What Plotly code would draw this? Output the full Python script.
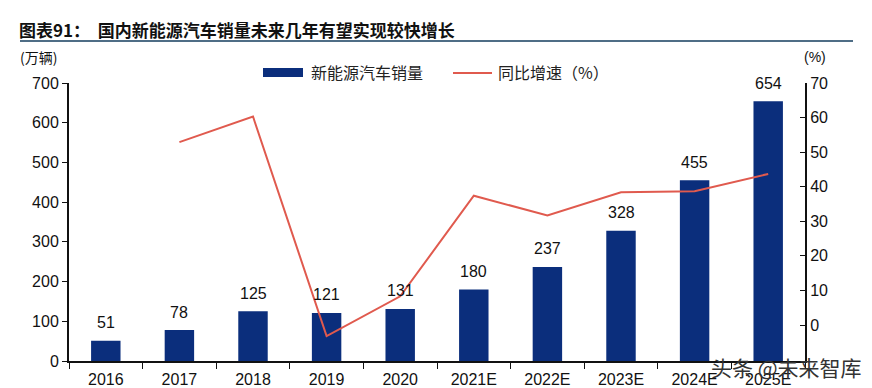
import plotly.graph_objects as go

categories = ["2016", "2017", "2018", "2019", "2020", "2021E", "2022E", "2023E", "2024E", "2025E"]
sales = [51, 78, 125, 121, 131, 180, 237, 328, 455, 654]
growth = [None, 52.9, 60.3, -3.2, 8.3, 37.4, 31.7, 38.4, 38.7, 43.7]
left_ticks = [0, 100, 200, 300, 400, 500, 600, 700]
right_ticks = [0, 10, 20, 30, 40, 50, 60, 70]

BAR = "#0B2E7C"
LINE = "#E05A4E"
FONT = "Liberation Sans, Arial, sans-serif"
CJK = "Noto Sans CJK SC"

W, H = 872, 388
L, R, T, B = 69, 67, 83, 27
pw, ph = W - L - R, H - T - B

def px(x):
    return (x - L) / pw

def py(y):
    return (H - B - y) / ph

fig = go.Figure()
fig.add_trace(go.Bar(
    x=categories, y=sales, marker_color=BAR, marker_line_width=0,
    name="新能源汽车销量", showlegend=False,
))
fig.add_trace(go.Scatter(
    x=categories, y=growth, yaxis="y2", mode="lines",
    line=dict(color=LINE, width=2), connectgaps=False,
    name="同比增速（%）", showlegend=False,
))

# Value labels above bars (category index positions)
for i, v in enumerate(sales):
    fig.add_annotation(x=i, y=v, xref="x", yref="y", text=str(v), showarrow=False,
                       yanchor="middle", yshift=18,
                       font=dict(family=FONT, size=16, color="#111"))

fig.update_layout(
    width=W, height=H,
    margin=dict(l=L, r=R, t=T, b=B, autoexpand=False),
    paper_bgcolor="white", plot_bgcolor="white",
    bargap=0.6,
    font=dict(family=FONT, size=15, color="#111"),
    xaxis=dict(
        type="category", categoryorder="array", categoryarray=categories,
        range=[-0.5, len(categories) - 0.5],
        automargin=False,
        showline=True, linecolor="#111", linewidth=2,
        ticks="outside", tickson="boundaries", ticklen=6, tickcolor="#111",
        ticklabelstandoff=3,
        tickfont=dict(family=FONT, size=16, color="#111"),
        showgrid=False, zeroline=False,
    ),
    yaxis=dict(
        automargin=False,
        range=[0, 700], tickvals=left_ticks,
        showline=True, linecolor="#111", linewidth=2,
        ticks="outside", ticklen=5, tickcolor="#111",
        tickfont=dict(family=FONT, size=16, color="#111"),
        showgrid=False, zeroline=False,
    ),
    yaxis2=dict(
        automargin=False,
        range=[-10.4, 70], tickvals=right_ticks, overlaying="y", side="right",
        showline=True, linecolor="#111", linewidth=2,
        ticks="inside", ticklen=5, tickcolor="#111",
        tickfont=dict(family=FONT, size=16, color="#111"),
        showgrid=False, zeroline=False,
    ),
)

# Title and underline
fig.add_annotation(
    xref="paper", yref="paper", x=px(17), y=py(29), xanchor="left", yanchor="middle",
    text="<b>图表91：  国内新能源汽车销量未来几年有望实现较快增长</b>",
    showarrow=False, font=dict(family=CJK, size=17, color="#111"),
)
fig.add_shape(type="line", xref="paper", yref="paper",
              x0=px(20), x1=px(853), y0=py(41), y1=py(41),
              line=dict(color="#4F6D86", width=2))

# Axis unit labels
fig.add_annotation(xref="paper", yref="paper", x=px(38), y=py(57), xanchor="center", yanchor="middle",
                   text="(万辆)", showarrow=False, font=dict(family=CJK, size=14, color="#111"))
fig.add_annotation(xref="paper", yref="paper", x=px(815), y=py(57), xanchor="center", yanchor="middle",
                   text="(%)", showarrow=False, font=dict(family=FONT, size=14, color="#111"))

# Custom legend
fig.add_shape(type="rect", xref="paper", yref="paper",
              x0=px(263), x1=px(303), y0=py(77), y1=py(68),
              fillcolor=BAR, line_width=0)
fig.add_annotation(xref="paper", yref="paper", x=px(309), y=py(72), xanchor="left", yanchor="middle",
                   text="新能源汽车销量", showarrow=False, font=dict(family=CJK, size=16, color="#222"))
fig.add_shape(type="line", xref="paper", yref="paper",
              x0=px(453), x1=px(492), y0=py(73), y1=py(73),
              line=dict(color=LINE, width=2))
fig.add_annotation(xref="paper", yref="paper", x=px(496), y=py(72), xanchor="left", yanchor="middle",
                   text="同比增速（%）", showarrow=False, font=dict(family=CJK, size=16, color="#222"))

# Watermark
fig.add_annotation(xref="paper", yref="paper", x=px(864), y=py(367), xanchor="right", yanchor="middle",
                   text="头条 @未来智库", showarrow=False,
                   font=dict(family=CJK, size=21, color="#333"))

fig.write_html("out.html", config={"displayModeBar": False},
               post_script="document.body.style.margin='0';")
